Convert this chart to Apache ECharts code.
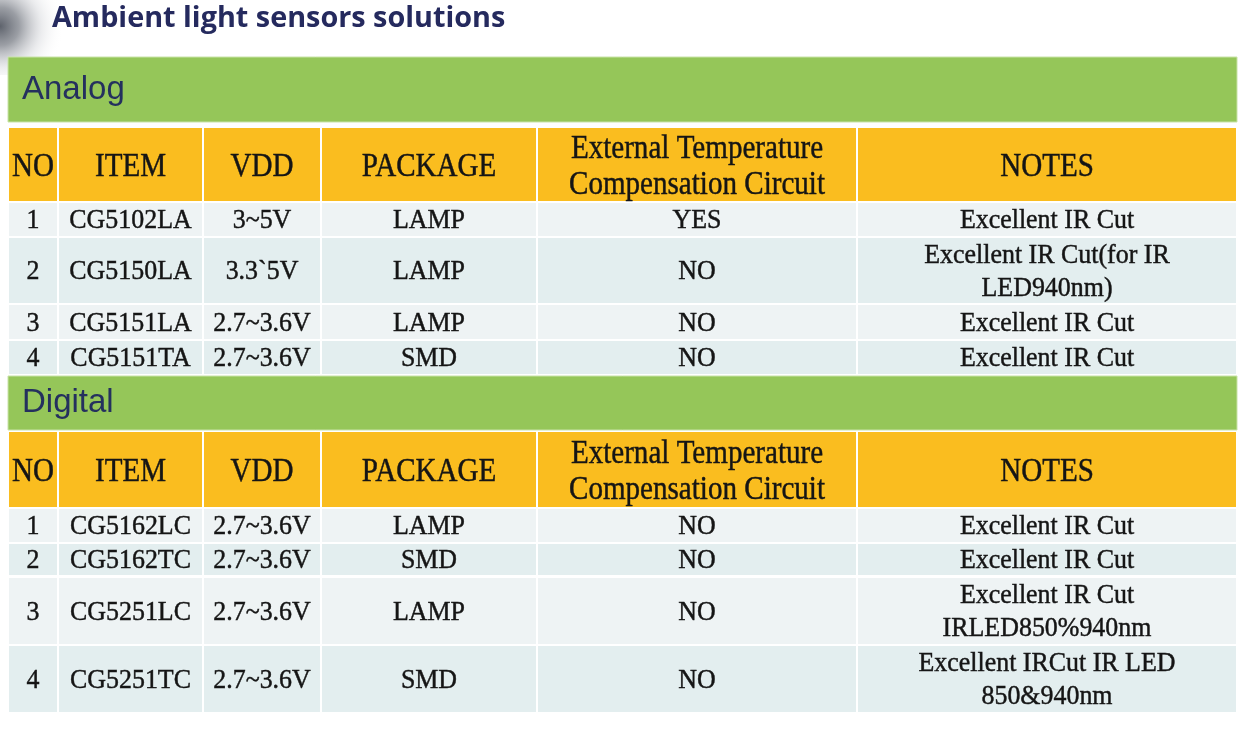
<!DOCTYPE html>
<html>
<head>
<meta charset="utf-8">
<script src="https://cdn.jsdelivr.net/npm/echarts@6/dist/echarts.min.js"></script>
<style>
html,body{margin:0;padding:0;background:#ffffff;}
#chart{width:1246px;height:730px;}
</style>
</head>
<body>
<div id="chart"></div>
<script>
// ---------- DATA ----------
const pageTitle = 'Ambient light sensors solutions';
const sectionNames = ['Analog', 'Digital'];
const headers = ['NO', 'ITEM', 'VDD', 'PACKAGE', 'External Temperature\nCompensation Circuit', 'NOTES'];

const analogNo = ['1', '2', '3', '4'];
const analogItem = ['CG5102LA', 'CG5150LA', 'CG5151LA', 'CG5151TA'];
const analogVdd = ['3~5V', '3.3`5V', '2.7~3.6V', '2.7~3.6V'];
const analogPackage = ['LAMP', 'LAMP', 'LAMP', 'SMD'];
const analogTempComp = ['YES', 'NO', 'NO', 'NO'];
const analogNotes = ['Excellent IR Cut', 'Excellent IR Cut(for IR\nLED940nm)', 'Excellent IR Cut', 'Excellent IR Cut'];

const digitalNo = ['1', '2', '3', '4'];
const digitalItem = ['CG5162LC', 'CG5162TC', 'CG5251LC', 'CG5251TC'];
const digitalVdd = ['2.7~3.6V', '2.7~3.6V', '2.7~3.6V', '2.7~3.6V'];
const digitalPackage = ['LAMP', 'SMD', 'LAMP', 'SMD'];
const digitalTempComp = ['NO', 'NO', 'NO', 'NO'];
const digitalNotes = ['Excellent IR Cut', 'Excellent IR Cut', 'Excellent IR Cut\nIRLED850%940nm', 'Excellent IRCut IR LED\n850&940nm'];

// ---------- LAYOUT (positions / sizes, not data) ----------
const COL_EDGES = [8, 58, 203, 321, 537, 857, 1237];
const SECTION_BANDS = [[57, 122], [376, 430]];
const HEADER_BANDS = [[128, 201], [432, 507]];
const ROW_BANDS = [
  [[203, 236], [238, 303], [305, 339], [341, 374]],
  [[509, 542], [544, 575], [578, 644], [646, 712]]
];

// ---------- STYLE ----------
const GREEN = '#95C659';
const ORANGE = '#FABD1F';
const ROW_ODD = '#EEF3F4';
const ROW_EVEN = '#E3EEEF';
const NAVY = '#24305E';
const SERIF = '"Liberation Serif", "DejaVu Serif", serif';

// ---------- BUILD CELLS ----------
const sectionCols = [
  [analogNo, analogItem, analogVdd, analogPackage, analogTempComp, analogNotes],
  [digitalNo, digitalItem, digitalVdd, digitalPackage, digitalTempComp, digitalNotes]
];
const cells = [];
sectionNames.forEach(function (name, s) {
  const sb = SECTION_BANDS[s];
  cells.push({ value: [COL_EDGES[0], COL_EDGES[COL_EDGES.length - 1], sb[0], sb[1]],
    kind: 'section', text: name });
  const hb = HEADER_BANDS[s];
  headers.forEach(function (h, c) {
    cells.push({ value: [COL_EDGES[c], COL_EDGES[c + 1], hb[0], hb[1]], kind: 'header', text: h, col: c });
  });
  const cols = sectionCols[s];
  cols[0].forEach(function (_, r) {
    const rb = ROW_BANDS[s][r];
    cols.forEach(function (arr, c) {
      cells.push({ value: [COL_EDGES[c], COL_EDGES[c + 1], rb[0], rb[1]], kind: r % 2 === 0 ? 'odd' : 'even', text: arr[r], col: c });
    });
  });
});

function renderCell(params, api) {
  const cell = cells[params.dataIndex];
  const p0 = api.coord([api.value(0), api.value(2)]);
  const p1 = api.coord([api.value(1), api.value(3)]);
  const x0 = p0[0], y0 = p0[1], x1 = p1[0], y1 = p1[1];
  let fill, textEl;
  if (cell.kind === 'section') {
    fill = GREEN;
    textEl = { type: 'text', x: x0 + 14, y: (y0 + y1) / 2,
      style: { text: cell.text, x: 0, y: 0, fill: NAVY, align: 'left', verticalAlign: 'middle',
        font: '33px "Liberation Sans", Arial, sans-serif' } };
  } else {
    const header = cell.kind === 'header';
    const fs = header ? 34 : 27;
    fill = header ? ORANGE : (cell.kind === 'odd' ? ROW_ODD : ROW_EVEN);
    textEl = { type: 'text', x: (x0 + x1) / 2, y: (y0 + y1) / 2 + (header ? 2.5 : 1.5),
      scaleX: header ? 0.855 : 0.96,
      style: { text: cell.text, x: 0, y: 0, fill: '#151515', align: 'center', verticalAlign: 'middle',
        stroke: '#151515', lineWidth: 0.45,
        font: fs + 'px ' + SERIF, lineHeight: header ? 36 : 33 } };
  }
  const inset = cell.kind === 'section' ? 0 : 1;
  return { type: 'group', children: [
    { type: 'rect', shape: { x: x0 + inset, y: y0, width: x1 - x0 - 2 * inset, height: y1 - y0 },
      style: { fill: fill, stroke: cell.kind === 'section' ? '#C9E3A8' : null, lineWidth: 1 } },
    textEl
  ] };
}

const chart = echarts.init(document.getElementById('chart'), null, { renderer: 'canvas' });
chart.setOption({
  animation: false,
  backgroundColor: '#ffffff',
  title: {
    text: pageTitle, left: 52, top: 4, padding: 0,
    textStyle: { color: '#252A5E', fontSize: 28.8, fontWeight: 'bold', fontFamily: '"Open Sans", sans-serif' }
  },
  graphic: [{
    type: 'rect', left: 0, top: 0, z: -1,
    shape: { width: 80, height: 75 },
    style: { fill: { type: 'radial', x: 0, y: 0.35, r: 0.85, colorStops: [
      { offset: 0, color: 'rgba(85,90,100,0.95)' },
      { offset: 0.3, color: 'rgba(130,134,142,0.8)' },
      { offset: 0.65, color: 'rgba(205,207,212,0.4)' },
      { offset: 1, color: 'rgba(255,255,255,0)' }] } }
  }],
  grid: { left: 0, right: 0, top: 0, bottom: 0 },
  xAxis: { type: 'value', min: 0, max: 1246, show: false },
  yAxis: { type: 'value', min: 0, max: 730, inverse: true, show: false },
  series: [{
    type: 'custom',
    renderItem: renderCell,
    data: cells.map(function (c) { return c.value; }),
    encode: { x: [0, 1], y: [2, 3] },
    clip: false
  }]
});
</script>
</body>
</html>
